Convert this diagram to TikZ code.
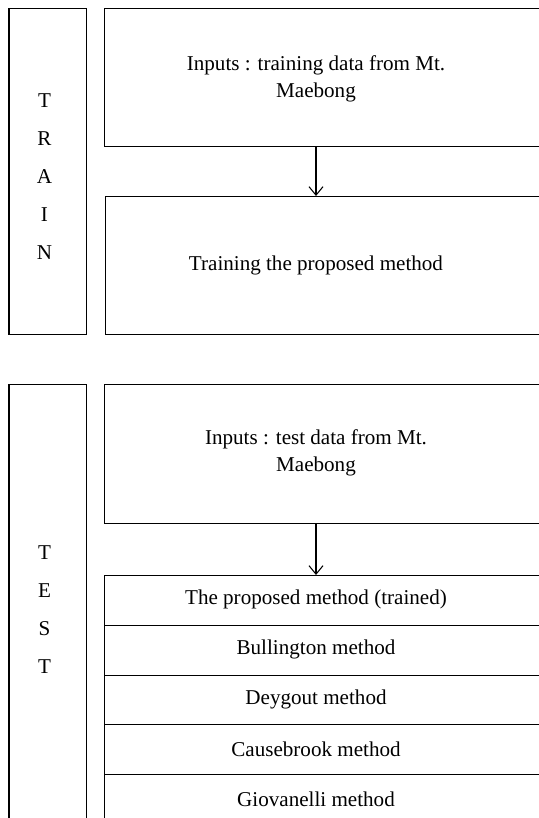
\documentclass[tikz,border=0pt]{standalone}
\usepackage{fontspec}
\setmainfont{Liberation Serif}
\usetikzlibrary{arrows.meta}
\begin{document}
\begin{tikzpicture}[
  box/.style={draw,line width=0.6pt,inner sep=0pt,anchor=north west},
  lbl/.style={font=\fontsize{12}{15.4}\selectfont,align=center,inner sep=0pt},
  flow/.style={-{Straight Barb[length=0.17cm,width=0.28cm]},line width=0.6pt}]
\path[use as bounding box,clip] (0,0) rectangle (10.78,-16.36);

% train part
\node[box,minimum width=1.55cm,minimum height=6.52cm] (trainbar) at (0.17,-0.16) {};
\foreach \c [count=\i] in {T,R,A,I,N}
  \node[lbl] (trainchar\i) at (0.89,{-2.02-0.76*(\i-1)}) {\c};
\node[box,minimum width=9.2cm,minimum height=2.77cm] (trainin) at (2.08,-0.15) {};
\node[lbl] (trainintxt) at (6.32,-1.57) {Inputs : training data from Mt.\\Maebong};
\node[box,minimum width=9.2cm,minimum height=2.76cm] (trainmeth) at (2.1,-3.92) {};
\node[lbl] (trainmethtxt) at (6.32,-5.3) {Training the proposed method};
\draw[flow] (trainintxt |- trainin.south) -- (trainintxt |- trainmeth.north);

% test part
\node[box,minimum width=1.55cm,minimum height=9.5cm] (testbar) at (0.17,-7.68) {};
\foreach \c [count=\i] in {T,E,S,T}
  \node[lbl] (testchar\i) at (0.89,{-11.06-0.76*(\i-1)}) {\c};
\node[box,minimum width=9.2cm,minimum height=2.78cm] (testin) at (2.08,-7.68) {};
\node[lbl] (testintxt) at (6.32,-9.06) {Inputs : test data from Mt.\\Maebong};
\foreach \t [count=\i] in {The proposed method (trained),Bullington method,Deygout method,Causebrook method,Giovanelli method}{
  \node[box,minimum width=9.2cm,minimum height=0.995cm] (row\i) at (2.08,{-11.5-0.995*(\i-1)}) {};
  \node[lbl] (rowtxt\i) at (6.32,{-11.5-0.995*(\i-1)-0.4975}) {\t};
}
\draw[flow] (testintxt |- testin.south) -- (testintxt |- row1.north);
\end{tikzpicture}
\end{document}
